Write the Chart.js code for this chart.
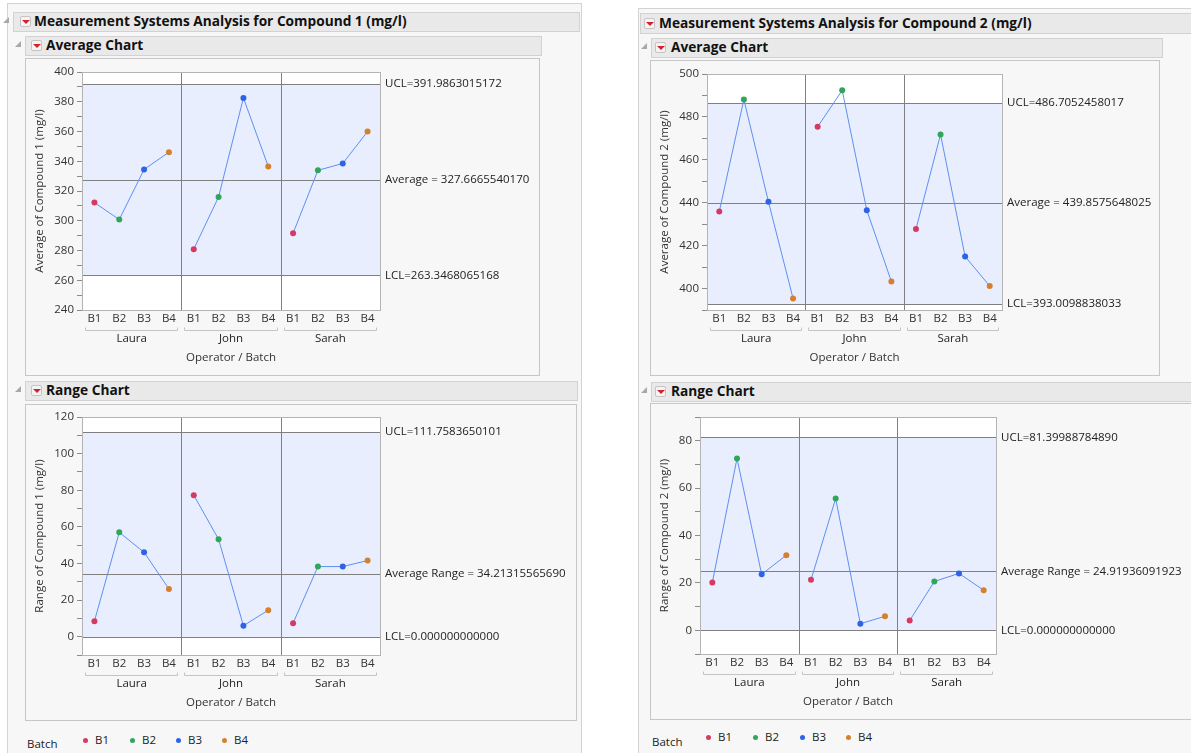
<!DOCTYPE html>
<html>
<head>
<meta charset="utf-8">
<script src="https://cdn.jsdelivr.net/npm/chart.js@4.4.0/dist/chart.umd.min.js"></script>
<style>
  body { margin: 0; background: #fff; font-family: "Open Sans", sans-serif; }
  #page { position: relative; width: 1191px; height: 753px; overflow: hidden; }
  .abs { position: absolute; box-sizing: border-box; }
  .outer { background: #f7f7f7; border: 1px solid #d3d3d3; }
  .frame { background: #f7f7f7; border: 1px solid #c6c6c6; }
  .hdr { background: #e9e9e9; border: 1px solid #d2d2d2; }
  .htxt { font-weight: bold; font-size: 13.7px; color: #111; white-space: nowrap; line-height: 18px; }
  .btn { width: 11px; height: 11px; background: #f4f4f4; border: 1px solid #c4c4c4; border-radius: 2px; }
  .btn:after { content: ""; position: absolute; left: 1px; top: 3px; border-left: 4px solid transparent; border-right: 4px solid transparent; border-top: 4px solid #d8202c; }
  .tri { width: 0; height: 0; border-left: 6px solid transparent; border-bottom: 6px solid #a8a8a8; }
  .leg { font-size: 11.5px; color: #222; white-space: nowrap; line-height: 14px; }
  .dot { width: 5px; height: 5px; border-radius: 50%; }
</style>
</head>
<body>
<div id="page">
  <!-- left report -->
  <div class="abs outer" style="left:7px;top:3px;width:575px;height:770px"></div>
  <div class="abs hdr" style="left:13px;top:12px;width:567px;height:20px"></div>
  <div class="abs tri" style="left:3px;top:17px"></div>
  <div class="abs btn" style="left:20px;top:16px"></div>
  <div class="abs htxt" style="left:34px;top:12px">Measurement Systems Analysis for Compound 1 (mg/l)</div>

  <div class="abs hdr" style="left:25px;top:36px;width:517px;height:20px"></div>
  <div class="abs tri" style="left:15px;top:41px"></div>
  <div class="abs btn" style="left:31px;top:40px"></div>
  <div class="abs htxt" style="left:46px;top:36px">Average Chart</div>
  <div class="abs frame" style="left:25px;top:58px;width:515px;height:318px"></div>
  <div class="abs" style="left:25px;top:58px;width:515px;height:318px"><canvas id="avg1"></canvas></div>

  <div class="abs hdr" style="left:25px;top:381px;width:553px;height:20px"></div>
  <div class="abs tri" style="left:15px;top:386px"></div>
  <div class="abs btn" style="left:31px;top:385px"></div>
  <div class="abs htxt" style="left:46px;top:381px">Range Chart</div>
  <div class="abs frame" style="left:25px;top:404px;width:552px;height:317px"></div>
  <div class="abs" style="left:25px;top:404px;width:552px;height:317px"><canvas id="rng1"></canvas></div>
  <div id="legend1"></div>

  <!-- right report -->
  <div class="abs outer" style="left:638px;top:8px;width:600px;height:770px"></div>
  <div class="abs hdr" style="left:640px;top:13px;width:560px;height:21px"></div>
  <div class="abs btn" style="left:644px;top:18px"></div>
  <div class="abs htxt" style="left:659px;top:14px">Measurement Systems Analysis for Compound 2 (mg/l)</div>

  <div class="abs hdr" style="left:651px;top:38px;width:512px;height:20px"></div>
  <div class="abs tri" style="left:641px;top:43px"></div>
  <div class="abs btn" style="left:655px;top:42px"></div>
  <div class="abs htxt" style="left:671px;top:38px">Average Chart</div>
  <div class="abs frame" style="left:650px;top:60px;width:510px;height:316px"></div>
  <div class="abs" style="left:650px;top:60px;width:510px;height:316px"><canvas id="avg2"></canvas></div>

  <div class="abs hdr" style="left:651px;top:382px;width:560px;height:20px"></div>
  <div class="abs tri" style="left:641px;top:387px"></div>
  <div class="abs btn" style="left:655px;top:386px"></div>
  <div class="abs htxt" style="left:671px;top:382px">Range Chart</div>
  <div class="abs frame" style="left:650px;top:403px;width:560px;height:317px"></div>
  <div class="abs" style="left:650px;top:403px;width:541px;height:317px"><canvas id="rng2"></canvas></div>
  <div id="legend2"></div>
</div>

<script>
// data
const operators = ['Laura', 'John', 'Sarah'];
const batches = ['B1', 'B2', 'B3', 'B4'];

const avg1 = [312.2, 300.8, 334.5, 346.1, 280.9, 316.0, 382.6, 336.5, 291.6, 333.9, 338.5, 360.0];
const range1 = [8.5, 57.0, 46.1, 26.1, 77.3, 53.2, 6.0, 14.5, 7.4, 38.3, 38.3, 41.6];
const avg2 = [435.9, 488.1, 440.4, 395.4, 475.4, 492.4, 436.5, 403.3, 427.7, 471.8, 414.9, 401.2];
const range2 = [20.2, 72.5, 23.6, 31.7, 21.3, 55.6, 2.8, 5.9, 4.1, 20.6, 24.0, 16.9];

// UCL, centre, LCL as printed
const avg1Limits = ['391.9863015172', '327.6665540170', '263.3468065168'];
const range1Limits = ['111.7583650101', '34.21315565690', '0.000000000000'];
const avg2Limits = ['486.7052458017', '439.8575648025', '393.0098838033'];
const range2Limits = ['81.39988784890', '24.91936091923', '0.000000000000'];

const avg1Axis = [240, 400];
const range1Axis = [-10, 120];
const avg2Axis = [390, 500];
const range2Axis = [-10, 90];

const batchColors = ['#d63a62', '#2fa65a', '#2f63e6', '#d4802f'];
const lineColor = '#5f8ff2';
const FONT = '"Open Sans", sans-serif';

const labels = operators.flatMap(() => batches);

const msaPlugin = {
  id: 'msa',
  beforeDatasetsDraw(chart, args, o) {
    const { ctx, chartArea: a, scales: { x, y } } = chart;
    ctx.save();
    ctx.fillStyle = '#ffffff';
    ctx.fillRect(a.left, a.top, a.width, a.height);
    const lim = o.limits.map(s => Math.round(y.getPixelForValue(parseFloat(s))) + 0.5);
    ctx.fillStyle = '#e8eefd';
    ctx.fillRect(a.left, lim[0], a.width, lim[2] - lim[0]);
    ctx.strokeStyle = '#808080';
    ctx.lineWidth = 1;
    lim.forEach(p => {
      ctx.beginPath(); ctx.moveTo(a.left, p); ctx.lineTo(a.right, p); ctx.stroke();
    });
    for (let g = 1; g < operators.length; g++) {
      const px = Math.round(x.getPixelForValue(g * batches.length - 0.5)) + 0.5;
      ctx.beginPath(); ctx.moveTo(px, a.top); ctx.lineTo(px, a.bottom); ctx.stroke();
    }
    ctx.restore();
  },
  afterDraw(chart, args, o) {
    const { ctx, chartArea: a, scales: { x, y } } = chart;
    ctx.save();
    ctx.strokeStyle = '#b4b4b4';
    ctx.lineWidth = 1;
    ctx.strokeRect(Math.round(a.left) + 0.5, Math.round(a.top) + 0.5, Math.round(a.width), Math.round(a.height));

    // limit labels on the right
    ctx.fillStyle = '#222';
    ctx.font = '11.5px ' + FONT;
    ctx.textAlign = 'left';
    ctx.textBaseline = 'middle';
    const names = ['UCL=', o.centerName + ' = ', 'LCL='];
    o.limits.forEach((s, i) => {
      ctx.fillText(names[i] + s, a.right + 5, y.getPixelForValue(parseFloat(s)));
    });

    // operator brackets and names
    const edges = [a.left];
    for (let g = 1; g < operators.length; g++) edges.push(x.getPixelForValue(g * batches.length - 0.5));
    edges.push(a.right);
    const by = Math.round(a.bottom + 20) + 0.5;
    ctx.strokeStyle = '#c4c4c4';
    ctx.textAlign = 'center';
    ctx.font = '11.5px ' + FONT;
    operators.forEach((name, g) => {
      const xs = Math.round(edges[g]) + 3.5, xe = Math.round(edges[g + 1]) - 3.5;
      ctx.beginPath();
      ctx.moveTo(xs, by - 3); ctx.lineTo(xs, by); ctx.lineTo(xe, by); ctx.lineTo(xe, by - 3);
      ctx.stroke();
      ctx.fillText(name, (edges[g] + edges[g + 1]) / 2, a.bottom + 29);
    });
    ctx.restore();
  }
};

function msaChart(id, values, limits, axis, yTitle, centerName, frame, plot) {
  const xH = 55;
  const bottomPad = frame.h - (plot.b - frame.t) - xH;
  // one dataset per operator so the line breaks between groups
  const datasets = operators.map((op, g) => ({
    label: op,
    data: values.map((v, i) => (Math.floor(i / batches.length) === g ? v : null)),
    borderColor: lineColor,
    borderWidth: 1,
    pointRadius: 3,
    pointBorderWidth: 0,
    pointBackgroundColor: values.map((v, i) => batchColors[i % batches.length]),
    spanGaps: false,
    tension: 0
  }));
  new Chart(document.getElementById(id), {
    type: 'line',
    data: { labels: labels, datasets: datasets },
    options: {
      responsive: true,
      maintainAspectRatio: false,
      animation: false,
      layout: { padding: { left: 0, top: plot.t - frame.t, right: frame.w - (plot.r - frame.l), bottom: bottomPad } },
      plugins: {
        legend: { display: false },
        tooltip: { enabled: false },
        msa: { limits: limits, centerName: centerName }
      },
      scales: {
        x: {
          offset: true,
          grid: { display: false, drawTicks: false, tickLength: 0 },
          border: { display: false },
          ticks: { color: '#333', font: { family: FONT, size: 11.5 }, padding: 2, autoSkip: false, maxRotation: 0 },
          title: { display: true, text: 'Operator / Batch', color: '#333', font: { family: FONT, size: 11.5 }, padding: 0 },
          afterFit: s => { s.height = xH; }
        },
        y: {
          min: axis[0],
          max: axis[1],
          grid: { drawOnChartArea: false, tickLength: 5, color: '#8c8c8c' },
          border: { display: false },
          ticks: {
            stepSize: 10, autoSkip: false, padding: 3, color: '#333',
            font: { family: FONT, size: 11.5 },
            callback: v => (v % 20 === 0 ? v : '')
          },
          title: { display: true, text: yTitle, color: '#333', font: { family: FONT, size: 11.5 }, padding: { top: 8, bottom: 0 } },
          afterFit: s => { s.width = plot.l - frame.l; }
        }
      }
    },
    plugins: [msaPlugin]
  });
}

msaChart('avg1', avg1, avg1Limits, avg1Axis, 'Average of Compound 1 (mg/l)', 'Average',
  { l: 25, t: 58, w: 515, h: 318 }, { l: 82, t: 72, r: 380, b: 310 });
msaChart('rng1', range1, range1Limits, range1Axis, 'Range of Compound 1 (mg/l)', 'Average Range',
  { l: 25, t: 404, w: 552, h: 317 }, { l: 82, t: 417, r: 380, b: 655 });
msaChart('avg2', avg2, avg2Limits, avg2Axis, 'Average of Compound 2 (mg/l)', 'Average',
  { l: 650, t: 60, w: 510, h: 316 }, { l: 707, t: 74, r: 1002, b: 310 });
msaChart('rng2', range2, range2Limits, range2Axis, 'Range of Compound 2 (mg/l)', 'Average Range',
  { l: 650, t: 403, w: 541, h: 317 }, { l: 700, t: 417, r: 996, b: 654 });

// batch legends under each report
function legend(id, left, batchY, itemY, dotXs) {
  const el = document.getElementById(id);
  let html = '<div class="abs leg" style="left:' + left + 'px;top:' + (batchY - 7) + 'px">Batch</div>';
  batches.forEach((b, i) => {
    html += '<div class="abs dot" style="left:' + (dotXs[i] - 2.5) + 'px;top:' + (itemY - 2.5) + 'px;background:' + batchColors[i] + '"></div>';
    html += '<div class="abs leg" style="left:' + (dotXs[i] + 10) + 'px;top:' + (itemY - 7) + 'px">' + b + '</div>';
  });
  el.innerHTML = html;
}
legend('legend1', 27, 744, 740, [85, 132, 178, 224]);
legend('legend2', 652, 742, 737, [708, 755, 802, 848]);
</script>
</body>
</html>
